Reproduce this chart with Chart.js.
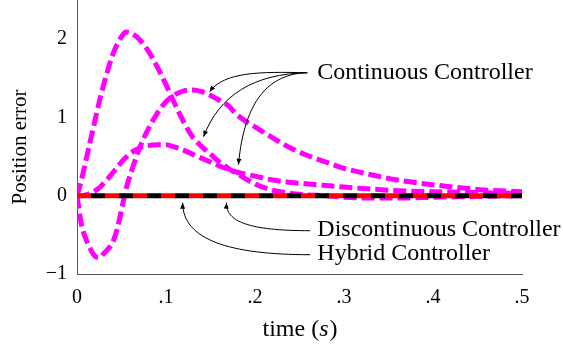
<!DOCTYPE html>
<html>
<head>
<meta charset="utf-8">
<script src="https://cdn.jsdelivr.net/npm/chart.js@4"></script>
<style>
  html, body { margin: 0; padding: 0; background: #fff; }
  canvas { display: block; }
</style>
</head>
<body>
<canvas id="myChart" width="563" height="347"></canvas>
<script>
// time samples (s)
const times = [0, .005, .01, .015, .02, .025, .03, .035, .04, .045, .05, .055, .06, .07, .08, .09, .1, .11, .12, .13, .14, .15, .16, .17, .18, .2, .22, .24, .26, .28, .3, .33, .36, .4, .45, .5];

// continuous controller, three runs
const contA = [0, .2, .45, .7, .95, 1.2, 1.42, 1.62, 1.8, 1.93, 2.03, 2.09, 2.08, 2.0, 1.85, 1.65, 1.42, 1.17, .94, .75, .63, .53, .43, .35, .28, .15, .07, .03, .01, 0, -.02, -.03, -.03, -.02, -.01, 0];
const contB = [0, -.37, -.55, -.68, -.77, -.79, -.74, -.68, -.6, -.43, -.18, .08, .27, .6, .85, 1.05, 1.2, 1.29, 1.34, 1.35, 1.33, 1.28, 1.22, 1.15, 1.03, .88, .74, .61, .51, .43, .35, .27, .2, .14, .08, .05];
const contC = [0, 0, .01, .03, .06, .1, .16, .22, .29, .36, .43, .49, .54, .61, .64, .65, .65, .62, .58, .53, .48, .43, .38, .34, .3, .25, .2, .17, .15, .13, .11, .085, .065, .05, .04, .03];

// discontinuous and hybrid stay at zero
const discont = times.map(() => 0);
const hybrid = times.map(() => 0);

const xTicks = [0, .1, .2, .3, .4, .5];
const yTicks = [-1, 0, 1, 2];

const SERIF = "'Liberation Serif', 'Times New Roman', serif";
const toXY = (arr) => arr.map((v, i) => ({ x: times[i], y: v }));

// annotation labels and arrows, in data units (t, value)
const notes = [
    { text: 'Continuous Controller', at: [.27, 1.57], arrows: [
        [[.2587, 1.571], [.205, 1.584], [.1657, 1.584], [.1489, 1.328]],
        [[.2587, 1.571], [.1993, 1.558], [.1601, 1.29], [.1422, .7535]],
        [[.2587, 1.571], [.2161, 1.558], [.1881, 1.226], [.1814, .396]]
    ]},
    { text: 'Discontinuous Controller', at: [.27, -.434], arrows: [
        [[.262, -.447], [.1937, -.447], [.1669, -.332], [.168, -.089]]
    ]},
    { text: 'Hybrid Controller', at: [.27, -.741], arrows: [
        [[.262, -.7535], [.1713, -.7535], [.1187, -.562], [.1187, -.089]]
    ]}
];

const notesPlugin = {
    id: 'notes',
    afterDraw(chart) {
        const { ctx, chartArea, scales: { x, y } } = chart;
        const P = (p) => [x.getPixelForValue(p[0]), y.getPixelForValue(p[1])];
        ctx.save();
        ctx.fillStyle = '#000';
        ctx.strokeStyle = '#000';
        ctx.lineWidth = 1;
        ctx.font = `24px ${SERIF}`;
        ctx.textBaseline = 'middle';
        ctx.textAlign = 'left';
        notes.forEach(n => {
            const [tx, ty] = P(n.at);
            ctx.fillText(n.text, tx, ty);
            n.arrows.forEach(a => {
                const [p0, c1, c2, p3] = a.map(P);
                ctx.beginPath();
                ctx.moveTo(p0[0], p0[1]);
                ctx.bezierCurveTo(c1[0], c1[1], c2[0], c2[1], p3[0], p3[1]);
                ctx.stroke();
                // arrow head
                const ang = Math.atan2(p3[1] - c2[1], p3[0] - c2[0]);
                const len = 6, half = 2.5;
                ctx.beginPath();
                ctx.moveTo(p3[0], p3[1]);
                ctx.lineTo(p3[0] - len * Math.cos(ang) + half * Math.sin(ang), p3[1] - len * Math.sin(ang) - half * Math.cos(ang));
                ctx.lineTo(p3[0] - len * Math.cos(ang) - half * Math.sin(ang), p3[1] - len * Math.sin(ang) + half * Math.cos(ang));
                ctx.closePath();
                ctx.fill();
            });
        });

        // x title: time (s) with italic s
        const cx = (chartArea.left + chartArea.right) / 2;
        const by = chartArea.bottom + 62;
        const a = 'time (', b = 's', c = ')';
        ctx.textBaseline = 'alphabetic';
        ctx.font = `24px ${SERIF}`;
        const wa = ctx.measureText(a).width, wc = ctx.measureText(c).width;
        ctx.font = `italic 24px ${SERIF}`;
        const wb = ctx.measureText(b).width;
        let sx = cx - (wa + wb + wc) / 2;
        ctx.font = `24px ${SERIF}`;
        ctx.fillText(a, sx, by);
        ctx.font = `italic 24px ${SERIF}`;
        ctx.fillText(b, sx + wa, by);
        ctx.font = `24px ${SERIF}`;
        ctx.fillText(c, sx + wa + wb + 1, by);

        // y title
        ctx.save();
        ctx.translate(26, (chartArea.top + chartArea.bottom) / 2 + 10);
        ctx.rotate(-Math.PI / 2);
        ctx.font = `21px ${SERIF}`;
        ctx.textAlign = 'center';
        ctx.fillText('Position error', 0, 0);
        ctx.restore();
        ctx.restore();
    }
};

const magenta = (data) => ({
    data: toXY(data), borderColor: '#ff00ff', borderWidth: 5, borderDash: [13, 5],
    borderCapStyle: 'butt', pointRadius: 0, cubicInterpolationMode: 'monotone', fill: false
});

new Chart(document.getElementById('myChart'), {
    type: 'line',
    data: {
        datasets: [
            { label: 'Hybrid Controller', data: toXY(hybrid), borderColor: '#000', borderWidth: 5,
              borderDash: [14, 14], borderDashOffset: 14, borderCapStyle: 'butt', pointRadius: 0 },
            { label: 'Discontinuous Controller', data: toXY(discont), borderColor: '#ff0000', borderWidth: 5,
              borderDash: [14, 14], borderCapStyle: 'butt', pointRadius: 0 },
            { label: 'Continuous Controller', ...magenta(contA) },
            { label: 'Continuous Controller', ...magenta(contB) },
            { label: 'Continuous Controller', ...magenta(contC) }
        ]
    },
    options: {
        responsive: false,
        animation: false,
        devicePixelRatio: 1,
        layout: { padding: { left: 0, right: 41, top: 0, bottom: 0 } },
        plugins: { legend: { display: false }, tooltip: { enabled: false } },
        scales: {
            x: {
                type: 'linear', min: 0, max: 0.5,
                afterBuildTicks: s => { s.ticks = xTicks.map(v => ({ value: v })); },
                afterFit: s => { s.height = 73; s.paddingLeft = 0; s.paddingRight = 0; },
                grid: { display: false, drawTicks: false },
                border: { display: true, color: '#555', width: 1, dash: [1, 1] },
                ticks: {
                    color: '#000', font: { family: SERIF, size: 20 }, padding: 12, maxRotation: 0,
                    callback: v => v === 0 ? '0' : v.toFixed(1).replace(/^0/, '')
                }
            },
            y: {
                type: 'linear', min: -1, max: 2.5,
                afterBuildTicks: s => { s.ticks = yTicks.map(v => ({ value: v })); },
                afterFit: s => { s.width = 77; s.paddingTop = 0; s.paddingBottom = 0; },
                grid: { display: false, drawTicks: false },
                border: { display: true, color: '#555', width: 1, dash: [1, 1] },
                ticks: {
                    color: '#000', font: { family: SERIF, size: 20 }, padding: 10,
                    callback: v => v < 0 ? '\u2212' + Math.abs(v) : String(v)
                }
            }
        }
    },
    plugins: [notesPlugin]
});
</script>
</body>
</html>
